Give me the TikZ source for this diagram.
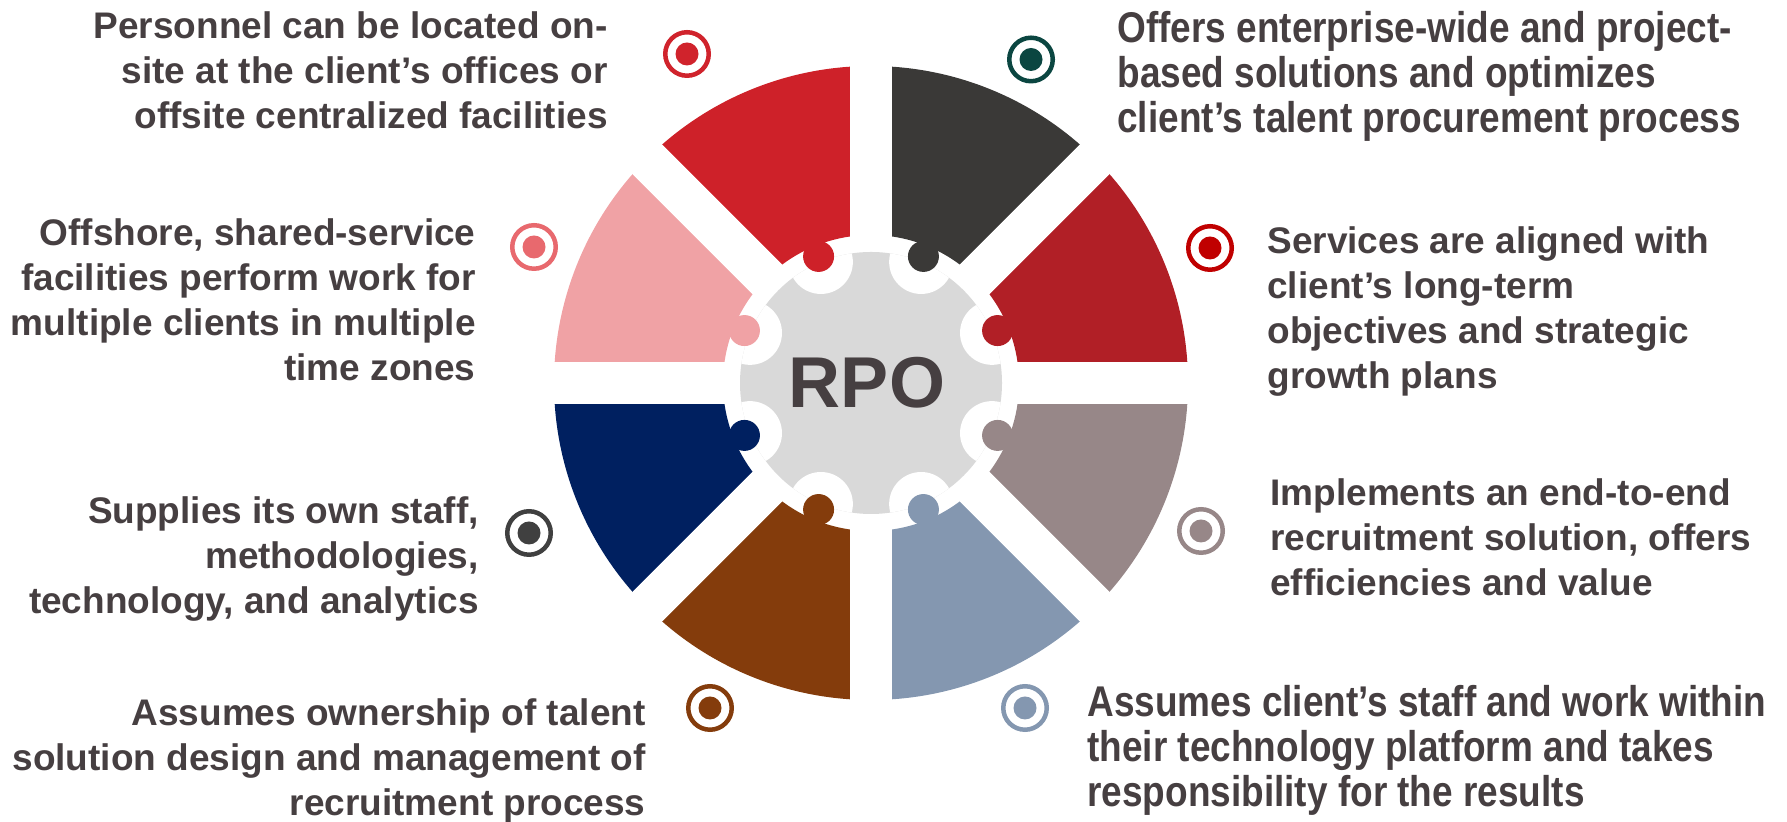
\documentclass[tikz,border=0pt]{standalone}
\usepackage{fontspec}
\setmainfont{Liberation Sans}
\newfontfamily\narrowsans[FakeStretch=0.86]{Liberation Sans}
\usetikzlibrary{positioning}

\definecolor{textgray}{HTML}{463F41}
\definecolor{hubgray}{HTML}{D9D9D9}
\definecolor{segred}{HTML}{CE2129}
\definecolor{segdark}{HTML}{3A3937}
\definecolor{segcrimson}{HTML}{B11F26}
\definecolor{segmauve}{HTML}{978788}
\definecolor{segsteel}{HTML}{8497B0}
\definecolor{segbrown}{HTML}{843C0C}
\definecolor{segnavy}{HTML}{002060}
\definecolor{segpink}{HTML}{F0A2A5}
\definecolor{dotred}{HTML}{D0232C}
\definecolor{dotteal}{HTML}{0B4641}
\definecolor{dotsalmon}{HTML}{E8696E}
\definecolor{dotcrimson}{HTML}{C00000}
\definecolor{dotgray}{HTML}{404040}

\begin{document}
\begin{tikzpicture}[
      x=0.5pt,y=0.5pt,
      segment/.style={fill=#1},
      gapline/.style={draw=white, line width=21pt},
      notch/.style={fill=white},
      knob/.style={fill=#1},
      hub/.style={
         circle,
         inner sep=0pt,
         minimum size=131pt,
         fill=hubgray,
         text=textgray,
         font=\fontsize{36}{40}\selectfont\bfseries
      },
      ring/.style={circle, draw=#1, line width=2.25pt, inner sep=0pt, minimum size=21.75pt},
      dot/.style={circle, fill=#1, inner sep=0pt, minimum size=11.5pt},
      desc/.style={
         inner sep=0pt,
         text=textgray,
         font=\fontsize{18.5}{22.5}\selectfont\bfseries
      },
      desc narrow/.style={
         inner sep=0pt,
         text=textgray,
         font=\narrowsans\fontsize{21.5}{22.5}\selectfont\bfseries
      }
    ]
    \useasboundingbox (0,0) rectangle (1787,822);

    % wheel
    \begin{scope}[shift={(871,439)}]
       \fill[segment=segcrimson] (0:148) arc[start angle=0, end angle=45, radius=148] -- (45:317) arc[start angle=45, end angle=0, radius=317] -- cycle;
       \fill[segment=segdark] (45:148) arc[start angle=45, end angle=90, radius=148] -- (90:317) arc[start angle=90, end angle=45, radius=317] -- cycle;
       \fill[segment=segred] (90:148) arc[start angle=90, end angle=135, radius=148] -- (135:317) arc[start angle=135, end angle=90, radius=317] -- cycle;
       \fill[segment=segpink] (135:148) arc[start angle=135, end angle=180, radius=148] -- (180:317) arc[start angle=180, end angle=135, radius=317] -- cycle;
       \fill[segment=segnavy] (180:148) arc[start angle=180, end angle=225, radius=148] -- (225:317) arc[start angle=225, end angle=180, radius=317] -- cycle;
       \fill[segment=segbrown] (225:148) arc[start angle=225, end angle=270, radius=148] -- (270:317) arc[start angle=270, end angle=225, radius=317] -- cycle;
       \fill[segment=segsteel] (270:148) arc[start angle=270, end angle=315, radius=148] -- (315:317) arc[start angle=315, end angle=270, radius=317] -- cycle;
       \fill[segment=segmauve] (315:148) arc[start angle=315, end angle=360, radius=148] -- (360:317) arc[start angle=360, end angle=315, radius=317] -- cycle;
       \draw[gapline] (0:340) -- (180:340);
       \draw[gapline] (45:340) -- (225:340);
       \draw[gapline] (90:340) -- (270:340);
       \draw[gapline] (135:340) -- (315:340);

       \node (hub) [hub] at (0,0) {};
       \begin{scope}
          \clip (0,0) circle (131);
          \fill[notch] (22.5:131) circle (32);
          \fill[notch] (67.5:131) circle (32);
          \fill[notch] (112.5:131) circle (32);
          \fill[notch] (157.5:131) circle (32);
          \fill[notch] (202.5:131) circle (32);
          \fill[notch] (247.5:131) circle (32);
          \fill[notch] (292.5:131) circle (32);
          \fill[notch] (337.5:131) circle (32);
       \end{scope}
       \node (rpo) [text=textgray, font=\fontsize{36}{40}\selectfont\bfseries] at (-4,0) {RPO};

       \fill[knob=segcrimson] (22.5:137) circle (15.5);
       \fill[knob=segdark] (67.5:137) circle (15.5);
       \fill[knob=segred] (112.5:137) circle (15.5);
       \fill[knob=segpink] (157.5:137) circle (15.5);
       \fill[knob=segnavy] (202.5:137) circle (15.5);
       \fill[knob=segbrown] (247.5:137) circle (15.5);
       \fill[knob=segsteel] (292.5:137) circle (15.5);
       \fill[knob=segmauve] (337.5:137) circle (15.5);
    \end{scope}

    % bullets
    \node (b1) [ring=dotred] at (687,768) {};
    \node (b1d) [dot=dotred] at (b1) {};
    \node (b2) [ring=dotteal] at (1031,762.5) {};
    \node (b2d) [dot=dotteal] at (b2) {};
    \node (b3) [ring=dotsalmon] at (534,575) {};
    \node (b3d) [dot=dotsalmon] at (b3) {};
    \node (b4) [ring=dotcrimson] at (1210,574) {};
    \node (b4d) [dot=dotcrimson] at (b4) {};
    \node (b5) [ring=dotgray] at (529,289) {};
    \node (b5d) [dot=dotgray] at (b5) {};
    \node (b6) [ring=segmauve] at (1201,291) {};
    \node (b6d) [dot=segmauve] at (b6) {};
    \node (b7) [ring=segbrown] at (710,114) {};
    \node (b7d) [dot=segbrown] at (b7) {};
    \node (b8) [ring=segsteel] at (1025,114) {};
    \node (b8d) [dot=segsteel] at (b8) {};

    % descriptions
    \node (d1) [desc, align=right, anchor=north east] at (608,810.6)
       {Personnel can be located on-\\site at the client’s offices or\\offsite centralized facilities};
    \node (d2) [desc narrow, align=left, anchor=north west] at (1117,811)
       {Offers enterprise-wide and project-\\based solutions and optimizes\\client’s talent procurement process};
    \node (d3) [desc, align=right, anchor=north east] at (476,603.6)
       {Offshore, shared-service\\facilities perform work for\\multiple clients in multiple\\time zones};
    \node (d4) [desc, align=left, anchor=north west] at (1267,595.6)
       {Services are aligned with\\client’s long-term\\objectives and strategic\\growth plans};
    \node (d5) [desc, align=right, anchor=north east] at (479,326)
       {Supplies its own staff,\\methodologies,\\technology, and analytics};
    \node (d6) [desc, align=left, anchor=north west] at (1270,343.6)
       {Implements an end-to-end\\recruitment solution, offers\\efficiencies and value};
    \node (d7) [desc, align=right, anchor=north east] at (646,123.6)
       {Assumes ownership of talent\\solution design and management of\\recruitment process};
    \node (d8) [desc narrow, align=left, anchor=north west] at (1087,137)
       {Assumes client’s staff and work within\\their technology platform and takes\\responsibility for the results};
\end{tikzpicture}
\end{document}
